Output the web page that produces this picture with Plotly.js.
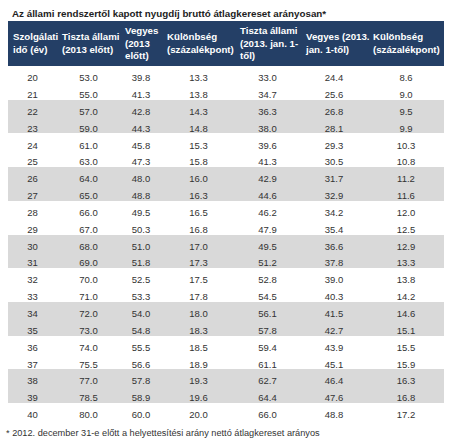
<!DOCTYPE html>
<html>
<head>
<meta charset="utf-8">
<script src="https://cdn.plot.ly/plotly-3.0.1.min.js"></script>
<style>html,body{margin:0;padding:0;background:#fff;}#chart{width:450px;height:443px;}</style>
</head>
<body>
<div id="chart"></div>
<script>
const headers = ["Szolgálati<br>idő (év)", "Tiszta állami<br>(2013 előtt)", "Vegyes<br>(2013<br>előtt)", "Különbség<br>(százalékpont)", "Tiszta állami<br>(2013. jan. 1-<br>től)", "Vegyes (2013.<br>jan. 1-től)", "Különbség<br>(százalékpont)"];
const years = [20,21,22,23,24,25,26,27,28,29,30,31,32,33,34,35,36,37,38,39,40];
const pureBefore = [53.0,55.0,57.0,59.0,61.0,63.0,64.0,65.0,66.0,67.0,68.0,69.0,70.0,71.0,72.0,73.0,74.0,75.5,77.0,78.5,80.0];
const mixedBefore = [39.8,41.3,42.8,44.3,45.8,47.3,48.0,48.8,49.5,50.3,51.0,51.8,52.5,53.3,54.0,54.8,55.5,56.6,57.8,58.9,60.0];
const diffBefore = [13.3,13.8,14.3,14.8,15.3,15.8,16.0,16.3,16.5,16.8,17.0,17.3,17.5,17.8,18.0,18.3,18.5,18.9,19.3,19.6,20.0];
const pureAfter = [33.0,34.7,36.3,38.0,39.6,41.3,42.9,44.6,46.2,47.9,49.5,51.2,52.8,54.5,56.1,57.8,59.4,61.1,62.7,64.4,66.0];
const mixedAfter = [24.4,25.6,26.8,28.1,29.3,30.5,31.7,32.9,34.2,35.4,36.6,37.8,39.0,40.3,41.5,42.7,43.9,45.1,46.4,47.6,48.8];
const diffAfter = [8.6,9.0,9.5,9.9,10.3,10.8,11.2,11.6,12.0,12.5,12.9,13.3,13.8,14.2,14.6,15.1,15.5,15.9,16.3,16.8,17.2];
const titleText = "Az állami rendszertől kapott nyugdíj bruttó átlagkereset arányosan*";
const footnote = "* 2012. december 31-e előtt a helyettesítési arány nettó átlagkereset arányos";

const W = 450, H = 443;
const FONT = 'Liberation Sans, Arial, sans-serif';
const colWidths = [49, 63, 42, 73, 65, 68, 76];
const tableLeft = 8, tableRight = 444, tableTop = 21, headerH = 45;

const fmt = a => a.map(v => v.toFixed(1));
const columns = [years.map(String), fmt(pureBefore), fmt(mixedBefore), fmt(diffBefore), fmt(pureAfter), fmt(mixedAfter), fmt(diffAfter)];
const rowColors = years.map((_, i) => (Math.floor(i / 2) % 2 === 1) ? '#d9d9d9' : '#ffffff');
const fillColors = columns.map(() => rowColors);

const trace = {
  type: 'table',
  domain: {x: [tableLeft / W, tableRight / W], y: [0, 1 - tableTop / H]},
  columnwidth: colWidths,
  header: {
    values: headers.map(() => ''),
    height: headerH,
    fill: {color: '#243f66'},
    line: {color: '#243f66', width: 0}
  },
  cells: {
    values: columns,
    align: 'center',
    height: 16.85,
    fill: {color: fillColors},
    line: {width: 0, color: 'rgba(0,0,0,0)'},
    font: {family: FONT, size: 9.5, color: '#333333'}
  }
};

// header labels, vertically centred in the header band
const totalW = colWidths.reduce((a, b) => a + b, 0);
const scale = (tableRight - tableLeft) / totalW;
let acc = tableLeft;
const headerAnns = headers.map((h, i) => {
  const x = acc + 2.5;
  acc += colWidths[i] * scale;
  return {text: '<b>' + h + '</b>', xref: 'paper', yref: 'paper', x: x / W, y: 1 - (tableTop + headerH / 2) / H,
    xanchor: 'left', yanchor: 'middle', align: 'left', showarrow: false,
    font: {family: FONT, size: 9.7, color: '#ffffff'}};
});

const layout = {
  width: W, height: H,
  margin: {l: 0, r: 0, t: 0, b: 0},
  paper_bgcolor: '#ffffff',
  showlegend: false,
  annotations: [
    {text: '<b>' + titleText + '</b>', xref: 'paper', yref: 'paper', x: 10 / W, y: 1 - 13 / H, xanchor: 'left', yanchor: 'middle', showarrow: false,
     font: {family: FONT, size: 9.8, color: '#222222'}},
    {text: footnote, xref: 'paper', yref: 'paper', x: 4 / W, y: 1 - 433 / H, xanchor: 'left', yanchor: 'middle', showarrow: false,
     font: {family: FONT, size: 9.2, color: '#333333'}}
  ].concat(headerAnns)
};

Plotly.newPlot('chart', [trace], layout, {staticPlot: true, displayModeBar: false});
</script>
</body>
</html>
